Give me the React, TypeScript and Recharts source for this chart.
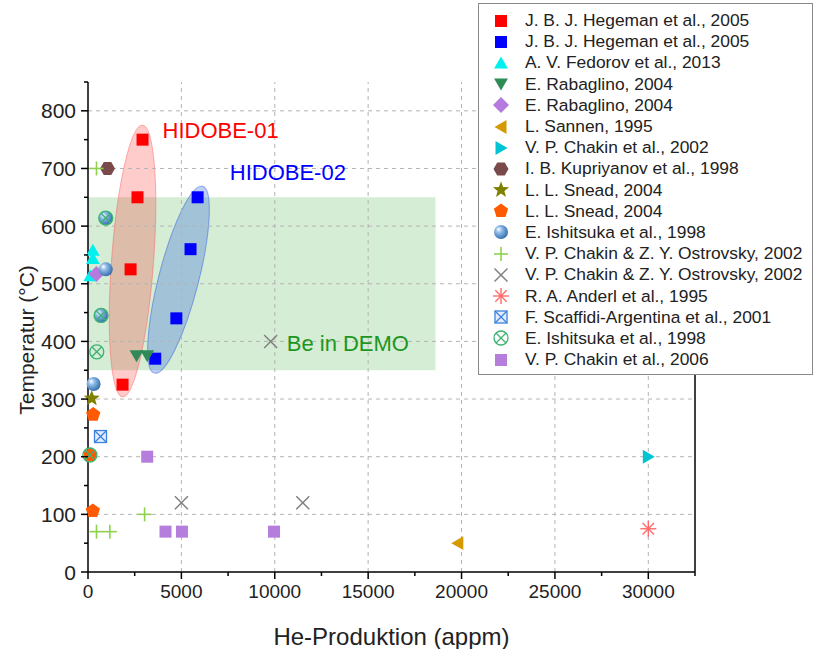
import React from 'react';
import {
  ScatterChart,
  Scatter,
  XAxis,
  YAxis,
  ReferenceArea,
  ReferenceLine,
  ReferenceDot,
  Legend,
} from 'recharts';

// measured points (He production in appm, temperature in °C)
const hegemanRed = [
  { x: 1850, y: 325 },
  { x: 2280, y: 525 },
  { x: 2650, y: 650 },
  { x: 2920, y: 750 },
];
const hegemanBlue = [
  { x: 3600, y: 370 },
  { x: 4730, y: 440 },
  { x: 5490, y: 560 },
  { x: 5870, y: 650 },
];
const fedorov = [
  { x: 260, y: 558 },
  { x: 260, y: 544 },
  { x: 120, y: 514 },
];
const rabaglinoTri = [
  { x: 2600, y: 375 },
  { x: 3170, y: 375 },
];
const rabaglinoDiamond = [{ x: 450, y: 517 }];
const sannen = [{ x: 19800, y: 50 }];
const chakin2002 = [{ x: 30000, y: 200 }];
const kupriyanov = [{ x: 1045, y: 700 }];
const sneadStar = [{ x: 200, y: 301 }];
const sneadPentagon = [
  { x: 280, y: 273 },
  { x: 120, y: 203 },
  { x: 260, y: 106 },
];
const ishitsukaSphere = [
  { x: 300, y: 326 },
  { x: 950, y: 525 },
  { x: 950, y: 614 },
  { x: 700, y: 445 },
];
const chakinPlus = [
  { x: 455, y: 700 },
  { x: 455, y: 70 },
  { x: 1170, y: 70 },
  { x: 3030, y: 100 },
];
const chakinCross = [
  { x: 5000, y: 120 },
  { x: 11500, y: 120 },
  { x: 9780, y: 400 },
];
const anderl = [{ x: 30000, y: 75 }];
const scaffidi = [{ x: 670, y: 235 }];
const ishitsukaCircle = [
  { x: 470, y: 382 },
  { x: 950, y: 614 },
  { x: 700, y: 445 },
  { x: 100, y: 203 },
];
const chakin2006 = [
  { x: 3170, y: 200 },
  { x: 4150, y: 70 },
  { x: 5030, y: 70 },
  { x: 9960, y: 70 },
];

const xTicks = [0, 2500, 5000, 7500, 10000, 12500, 15000, 17500, 20000, 22500, 25000, 27500, 30000, 32500];
const yTicks = [0, 50, 100, 150, 200, 250, 300, 350, 400, 450, 500, 550, 600, 650, 700, 750, 800, 850];
const xGrid = [5000, 10000, 15000, 20000, 25000, 30000];
const yGrid = [100, 200, 300, 400, 500, 600, 700, 800];

// DEMO window and HIDOBE ellipses (ends of the long axis)
const demoBox = { x1: 0, x2: 18600, y1: 350, y2: 650 };
const hidobe01 = { x1: 1850, y1: 304, x2: 2920, y2: 775 };
const hidobe02 = { x1: 3560, y1: 345, x2: 6130, y2: 669 };

const FONT = '"Liberation Sans", Arial, sans-serif';

const SERIES = [
  { name: 'J. B. J. Hegeman et al., 2005', kind: 'square', color: '#ff0000', data: hegemanRed },
  { name: 'J. B. J. Hegeman et al., 2005', kind: 'square', color: '#0000ff', data: hegemanBlue },
  { name: 'A. V. Fedorov et al., 2013', kind: 'triUp', color: '#00f0f0', data: fedorov },
  { name: 'E. Rabaglino, 2004', kind: 'triDown', color: '#2e8b57', data: rabaglinoTri },
  { name: 'E. Rabaglino, 2004', kind: 'diamond', color: '#b47ade', data: rabaglinoDiamond },
  { name: 'L. Sannen, 1995', kind: 'triLeft', color: '#d49a00', data: sannen },
  { name: 'V. P. Chakin et al., 2002', kind: 'triRight', color: '#00c4d4', data: chakin2002 },
  { name: 'I. B. Kupriyanov et al., 1998', kind: 'hexagon', color: '#7a4a4a', data: kupriyanov },
  { name: 'L. L. Snead, 2004', kind: 'star', color: '#808000', data: sneadStar },
  { name: 'L. L. Snead, 2004', kind: 'pentagon', color: '#ff5a00', data: sneadPentagon },
  { name: 'E. Ishitsuka et al., 1998', kind: 'sphere', color: '#5b9bd5', data: ishitsukaSphere },
  { name: 'V. P. Chakin & Z. Y. Ostrovsky, 2002', kind: 'plus', color: '#8fd14f', data: chakinPlus },
  { name: 'V. P. Chakin & Z. Y. Ostrovsky, 2002', kind: 'cross', color: '#808080', data: chakinCross },
  { name: 'R. A. Anderl et al., 1995', kind: 'asterisk', color: '#ff6b6b', data: anderl },
  { name: 'F. Scaffidi-Argentina et al., 2001', kind: 'crossSquare', color: '#3b82e0', data: scaffidi },
  { name: 'E. Ishitsuka et al., 1998', kind: 'crossCircle', color: '#3cb371', data: ishitsukaCircle },
  { name: 'V. P. Chakin et al., 2006', kind: 'square', color: '#b57edc', data: chakin2006 },
];

function poly(n: number, r: number, cx: number, cy: number, rot = 0) {
  const pts: string[] = [];
  for (let i = 0; i < n; i++) {
    const a = rot + (i * 2 * Math.PI) / n;
    pts.push(`${cx + r * Math.sin(a)},${cy - r * Math.cos(a)}`);
  }
  return pts.join(' ');
}

function star(cx: number, cy: number, ro: number, ri: number) {
  const pts: string[] = [];
  for (let i = 0; i < 10; i++) {
    const r = i % 2 === 0 ? ro : ri;
    const a = (i * Math.PI) / 5;
    pts.push(`${cx + r * Math.sin(a)},${cy - r * Math.cos(a)}`);
  }
  return pts.join(' ');
}

function Marker({ kind, color, cx, cy, grad }: { kind: string; color: string; cx: number; cy: number; grad: string }) {
  switch (kind) {
    case 'square':
      return <rect x={cx - 6} y={cy - 6} width={12} height={12} fill={color} />;
    case 'triUp':
      return <polygon points={poly(3, 8, cx, cy + 1.5)} fill={color} />;
    case 'triDown':
      return <polygon points={poly(3, 8, cx, cy - 1.5, Math.PI)} fill={color} />;
    case 'triLeft':
      return <polygon points={poly(3, 8, cx + 1.5, cy, -Math.PI / 2)} fill={color} />;
    case 'triRight':
      return <polygon points={poly(3, 8, cx - 1.5, cy, Math.PI / 2)} fill={color} />;
    case 'diamond':
      return <polygon points={poly(4, 8, cx, cy)} fill={color} />;
    case 'hexagon':
      return <polygon points={poly(6, 7.5, cx, cy, Math.PI / 6)} fill={color} />;
    case 'pentagon':
      return <polygon points={poly(5, 7.5, cx, cy)} fill={color} />;
    case 'star':
      return <polygon points={star(cx, cy, 8.5, 3.6)} fill={color} />;
    case 'sphere':
      return <circle cx={cx} cy={cy} r={7} fill={`url(#${grad})`} />;
    case 'plus':
      return (
        <g stroke={color} strokeWidth={1.6}>
          <line x1={cx - 7} y1={cy} x2={cx + 7} y2={cy} />
          <line x1={cx} y1={cy - 7} x2={cx} y2={cy + 7} />
        </g>
      );
    case 'cross':
      return (
        <g stroke={color} strokeWidth={1.5}>
          <line x1={cx - 6.5} y1={cy - 6.5} x2={cx + 6.5} y2={cy + 6.5} />
          <line x1={cx - 6.5} y1={cy + 6.5} x2={cx + 6.5} y2={cy - 6.5} />
        </g>
      );
    case 'asterisk':
      return (
        <g stroke={color} strokeWidth={1.4}>
          <line x1={cx - 8} y1={cy} x2={cx + 8} y2={cy} />
          <line x1={cx - 5.7} y1={cy - 5.7} x2={cx + 5.7} y2={cy + 5.7} />
          <line x1={cx - 5.7} y1={cy + 5.7} x2={cx + 5.7} y2={cy - 5.7} />
          <line x1={cx} y1={cy - 8} x2={cx} y2={cy + 8} />
        </g>
      );
    case 'crossSquare':
      return (
        <g stroke={color} strokeWidth={1.3}>
          <rect x={cx - 6} y={cy - 6} width={12} height={12} fill="#e3edfc" />
          <line x1={cx - 6} y1={cy - 6} x2={cx + 6} y2={cy + 6} />
          <line x1={cx - 6} y1={cy + 6} x2={cx + 6} y2={cy - 6} />
        </g>
      );
    case 'crossCircle':
      return (
        <g stroke={color} strokeWidth={1.3} fill="none">
          <circle cx={cx} cy={cy} r={7} />
          <line x1={cx - 5} y1={cy - 5} x2={cx + 5} y2={cy + 5} />
          <line x1={cx - 5} y1={cy + 5} x2={cx + 5} y2={cy - 5} />
        </g>
      );
    default:
      return null;
  }
}

function SphereGrad({ id }: { id: string }) {
  return (
    <radialGradient id={id} cx="40%" cy="40%" r="65%" fx="32%" fy="30%">
      <stop offset="0%" stopColor="#ffffff" />
      <stop offset="35%" stopColor="#8fbbe8" />
      <stop offset="100%" stopColor="#2d68a8" />
    </radialGradient>
  );
}

const LeftTick = (props: any) => {
  const { x, y, payload } = props;
  const v = payload.value;
  const major = v % 100 === 0;
  return (
    <g>
      <line x1={x} y1={y} x2={x - (major ? 7 : 4)} y2={y} stroke="#000" strokeWidth={1.5} />
      {major && (
        <text x={x - 12} y={y + 7.5} textAnchor="end" fontSize={21} fontFamily={FONT} fill="#222">
          {v}
        </text>
      )}
    </g>
  );
};

const BottomTick = (props: any) => {
  const { x, y, payload } = props;
  const v = payload.value;
  const major = v % 5000 === 0;
  return (
    <g>
      <line x1={x} y1={y} x2={x} y2={y + (major ? 7 : 4)} stroke="#000" strokeWidth={1.5} />
      {major && (
        <text x={x} y={y + 26} textAnchor="middle" fontSize={19} fontFamily={FONT} fill="#222">
          {v}
        </text>
      )}
    </g>
  );
};

function tiltedEllipse(fill: string, stroke: string, opacity: number, semiMinor: number) {
  return (p: any) => {
    const { x, y, width, height } = p;
    const cx = x + width / 2;
    const cy = y + height / 2;
    const len = Math.sqrt(width * width + height * height);
    const deg = (-Math.atan2(height, width) * 180) / Math.PI;
    return (
      <ellipse
        cx={cx}
        cy={cy}
        rx={len / 2}
        ry={semiMinor}
        fill={fill}
        fillOpacity={opacity}
        stroke={stroke}
        strokeOpacity={0.5}
        strokeWidth={1}
        transform={`rotate(${deg} ${cx} ${cy})`}
      />
    );
  };
}

function textMark(text: string, color: string) {
  return (p: any) => (
    <text x={p.cx} y={p.cy + 8} fill={color} fontSize={22} fontFamily={FONT}>
      {text}
    </text>
  );
}

const LegendBox = () => (
  <div
    style={{
      border: '1px solid #8a8a8a',
      background: '#fff',
      padding: '6px 0 4px 0',
      width: 335,
      fontFamily: FONT,
      fontSize: 17.4,
      color: '#222',
      boxSizing: 'border-box',
    }}
  >
    {SERIES.map((s, i) => (
      <div key={i} style={{ display: 'flex', alignItems: 'center', height: 21.2 }}>
        <svg width={20} height={20} style={{ marginLeft: 12, marginRight: 14, flex: 'none' }}>
          <defs>
            <SphereGrad id={`lg-sphere-${i}`} />
          </defs>
          <Marker kind={s.kind} color={s.color} cx={10} cy={10} grad={`lg-sphere-${i}`} />
        </svg>
        <span style={{ whiteSpace: 'nowrap' }}>{s.name}</span>
      </div>
    ))}
  </div>
);

export default function App() {
  return (
    <div style={{ position: 'absolute', left: 0, top: 0, width: 814, height: 649, background: '#fff' }}>
      <ScatterChart width={814} height={649} margin={{ top: 82, right: 119, bottom: 0, left: 0 }}>
        <defs>
          <SphereGrad id="plot-sphere" />
        </defs>
        <XAxis
          type="number"
          dataKey="x"
          domain={[0, 32500]}
          ticks={xTicks}
          interval={0}
          height={77}
          tickSize={0}
          tickMargin={0}
          tickLine={false}
          tick={<BottomTick />}
          axisLine={{ stroke: '#000', strokeWidth: 1.5 }}
          label={{
            value: 'He-Produktion (appm)',
            position: 'center',
            dy: 26,
            style: { fontSize: 24, fontFamily: FONT, fill: '#222' },
          }}
        />
        <YAxis
          type="number"
          dataKey="y"
          domain={[0, 850]}
          ticks={yTicks}
          interval={0}
          width={88}
          tickSize={0}
          tickMargin={0}
          tickLine={false}
          tick={<LeftTick />}
          axisLine={{ stroke: '#000', strokeWidth: 1.5 }}
          label={{
            value: 'Temperatur (°C)',
            angle: -90,
            position: 'center',
            dx: -17,
            dy: 13,
            style: { fontSize: 21, fontFamily: FONT, fill: '#222', textAnchor: 'middle' },
          }}
        />
        {xGrid.map((v) => (
          <ReferenceLine key={`gx${v}`} x={v} stroke="#b4b4b4" strokeDasharray="4 4" />
        ))}
        {yGrid.map((v) => (
          <ReferenceLine key={`gy${v}`} y={v} stroke="#b4b4b4" strokeDasharray="4 4" />
        ))}
        <ReferenceLine x={32500} stroke="#000" strokeWidth={1.5} />
        <ReferenceArea {...demoBox} fill="#2ca02c" fillOpacity={0.2} stroke="none" />
        <ReferenceArea {...hidobe01} shape={tiltedEllipse('#ff0000', '#ff6060', 0.2, 21)} />
        <ReferenceArea {...hidobe02} shape={tiltedEllipse('#2e5fe0', '#2e5fe0', 0.3, 20)} />
        <ReferenceDot x={3990} y={767} r={0} shape={textMark('HIDOBE-01', '#ff0000')} />
        <ReferenceDot x={7590} y={694} r={0} shape={textMark('HIDOBE-02', '#0000ff')} />
        <ReferenceDot x={10640} y={397} r={0} shape={textMark('Be in DEMO', '#1e961e')} />
        {SERIES.map((s, i) => (
          <Scatter
            key={i}
            name={s.name}
            data={s.data}
            isAnimationActive={false}
            fill={s.color}
            shape={(p: any) => <Marker kind={s.kind} color={s.color} cx={p.cx} cy={p.cy} grad="plot-sphere" />}
          />
        ))}
        <Legend
          layout="vertical"
          align="center"
          verticalAlign="middle"
          content={() => <LegendBox />}
          wrapperStyle={{ position: 'absolute', left: 478, top: 3, width: 336, height: 'auto' }}
        />
      </ScatterChart>
    </div>
  );
}
